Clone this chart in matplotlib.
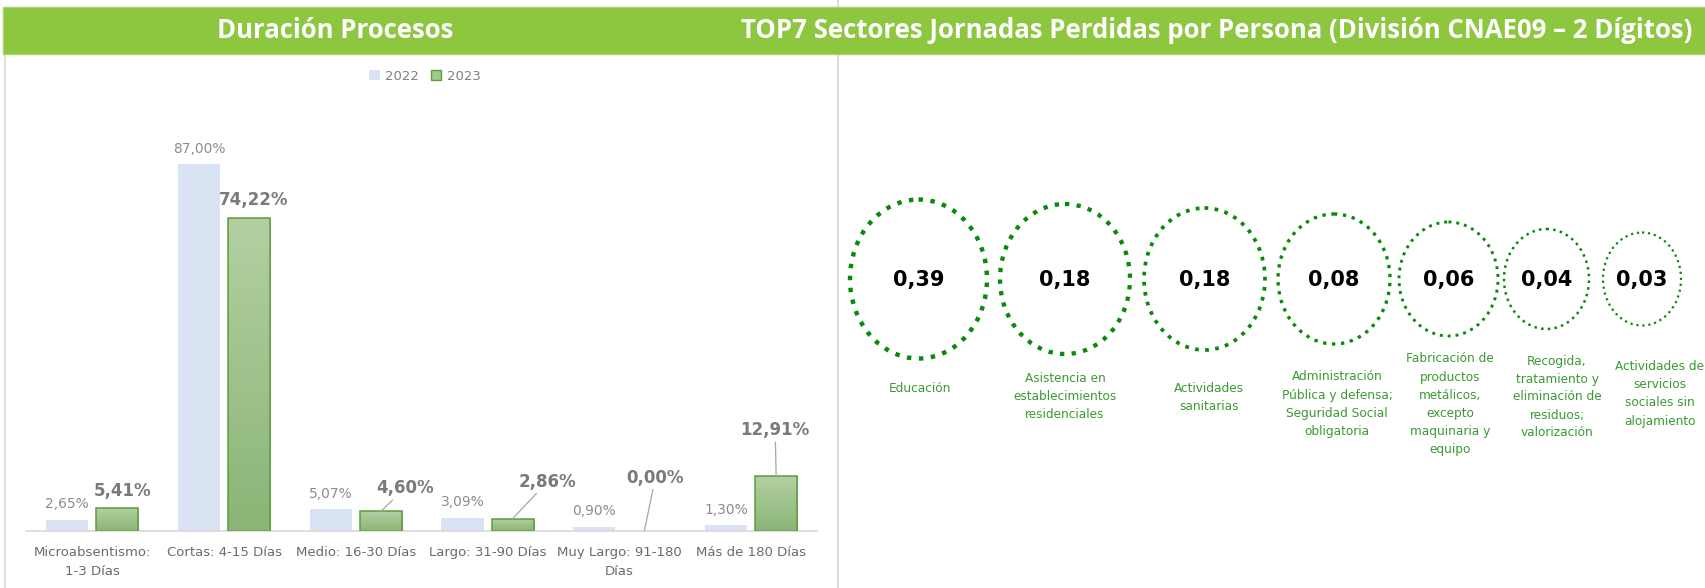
import numpy as np
import matplotlib
matplotlib.use("Agg")
import matplotlib.pyplot as plt
from matplotlib.patches import Patch, Rectangle, Ellipse
from matplotlib.colors import LinearSegmentedColormap

# ---- data ----
CATEGORIAS = [
    "Microabsentismo:\n1-3 Días",
    "Cortas: 4-15 Días",
    "Medio: 16-30 Días",
    "Largo: 31-90 Días",
    "Muy Largo: 91-180\nDías",
    "Más de 180 Días",
]
PCT_2022 = [2.65, 87.00, 5.07, 3.09, 0.90, 1.30]
PCT_2023 = [5.41, 74.22, 4.60, 2.86, 0.00, 12.91]
SERIES = ["2022", "2023"]

SECTORES = [
    "Educación",
    "Asistencia en\nestablecimientos\nresidenciales",
    "Actividades\nsanitarias",
    "Administración\nPública y defensa;\nSeguridad Social\nobligatoria",
    "Fabricación de\nproductos\nmetálicos,\nexcepto\nmaquinaria y\nequipo",
    "Recogida,\ntratamiento y\neliminación de\nresiduos;\nvalorización",
    "Actividades de\nservicios\nsociales sin\nalojamiento",
]
JORNADAS = [0.39, 0.18, 0.18, 0.08, 0.06, 0.04, 0.03]

TITLE_LEFT = "Duración Procesos"
TITLE_RIGHT = "TOP7 Sectores Jornadas Perdidas por Persona (División CNAE09 – 2 Dígitos)"

# ---- layout (pixels of the 1706x588 canvas) ----
W, H = 1706, 588
CIRCLE_CX = [918.5, 1065, 1204.5, 1334, 1448.5, 1546.5, 1642]
CIRCLE_CY = 279
CIRCLE_W = [137, 130, 121, 112, 99, 85, 78]
CIRCLE_H = [159, 150, 142, 130, 114, 100, 93]
CIRCLE_LW = [3.2, 3.1, 2.7, 2.4, 2.1, 1.8, 1.6]
LABEL_X = [920, 1065, 1209, 1337, 1450, 1557, 1660]
LABEL_Y = [389, 396, 397, 404, 404, 397, 394]

# offsets (px) of the 2023 value labels from the bar top, and whether a leader line is drawn
OFFS_2023 = [(5, 17), (5, 18), (24, 23), (35, 37), (11, 53), (-1, 46)]
LEADER_2023 = [False, False, True, True, True, True]

C_2022 = "#DAE3F3"
C_2023_TOP = "#B3D0A2"
C_2023_BOT = "#8AB576"
C_2023_EDGE = "#5E9C3C"
C_BAND = "#8DC63F"
C_DOTS = "#0A8A0A"
C_SECTOR = "#3A9A32"

PX = 72 / 100  # points per pixel at dpi 100


def fmt_pct(v):
    return f"{v:.2f}".replace(".", ",") + "%"


fig = plt.figure(figsize=(W / 100, H / 100), dpi=100)

# overlay axes in pixel units for the frame, header and the circles
ov = fig.add_axes([0, 0, 1, 1], zorder=0)
ov.set_xlim(0, W)
ov.set_ylim(H, 0)
ov.axis("off")

ov.plot([5, 5], [54, H], color="#D9D9D9", lw=1.2)
ov.plot([838, 838], [0, H], color="#D4D4D4", lw=1.2)
ov.add_patch(Rectangle((3, 7), W - 3, 47, facecolor=C_BAND, edgecolor="#A8D46E", lw=1.0, zorder=3))
ov.text(335, 31, TITLE_LEFT, color="white", fontsize=18.5, fontweight="bold",
        family=["Open Sans", "DejaVu Sans"], ha="center", va="center", zorder=4)
ov.text(1692, 31, TITLE_RIGHT, color="white", fontsize=18.5, fontweight="bold",
        family=["Open Sans", "DejaVu Sans"], ha="right", va="center", zorder=4)

for i, val in enumerate(JORNADAS):
    ov.add_patch(Ellipse((CIRCLE_CX[i], CIRCLE_CY), CIRCLE_W[i], CIRCLE_H[i], fill=False,
                         edgecolor=C_DOTS, lw=CIRCLE_LW[i], linestyle=(0, (1, 1.7)),
                         capstyle="butt"))
    ov.text(CIRCLE_CX[i], CIRCLE_CY + 1, f"{val:.2f}".replace(".", ","), fontsize=15,
            fontweight="bold", color="black", ha="center", va="center")
    ov.text(LABEL_X[i], LABEL_Y[i], SECTORES[i], fontsize=8.7, color=C_SECTOR,
            ha="center", va="center", linespacing=1.5, multialignment="center")

# bar chart
ax = fig.add_axes([26.4 / W, 1 - 530.7 / H, (817 - 26.4) / W, 421 / H], zorder=1)
ax.patch.set_alpha(0)
x = np.arange(len(CATEGORIAS))
bw, off = 0.32, 0.19
bars22 = ax.bar(x - off, PCT_2022, bw, color=C_2022, zorder=2)
bars23 = ax.bar(x + off, PCT_2023, bw, facecolor="none", edgecolor=C_2023_EDGE, lw=1.1, zorder=3)

grad = np.linspace(0, 1, 256).reshape(-1, 1)
cmap = LinearSegmentedColormap.from_list("g23", [C_2023_BOT, C_2023_TOP])
for rect in bars23:
    h = rect.get_height()
    if h <= 0:
        rect.set_linewidth(0)
        continue
    x0, w = rect.get_x(), rect.get_width()
    im = ax.imshow(grad, extent=[x0, x0 + w, 0, h], origin="lower", cmap=cmap,
                   aspect="auto", zorder=2.5)
    im.set_clip_path(rect)

for rect, v in zip(bars22, PCT_2022):
    ax.annotate(fmt_pct(v), (rect.get_x() + rect.get_width() / 2, v),
                xytext=(0, 15.5 * PX), textcoords="offset points",
                ha="center", va="center", fontsize=9.9, color="#8C8C8C")

for rect, v, (dx, dy), lead in zip(bars23, PCT_2023, OFFS_2023, LEADER_2023):
    kw = {}
    if lead:
        kw["arrowprops"] = dict(arrowstyle="-", color="#A6A6A6", lw=0.9, shrinkA=0, shrinkB=0)
    ax.annotate(fmt_pct(v), (rect.get_x() + rect.get_width() / 2, v),
                xytext=(dx * PX, dy * PX), textcoords="offset points",
                ha="center", va="center", fontsize=12, fontweight="bold",
                color="#7A7A7A", **kw)

ax.set_xlim(-0.5, len(CATEGORIAS) - 0.5)
ax.set_ylim(0, 100)
ax.set_xticks(x, CATEGORIAS)
ax.tick_params(axis="x", length=0, pad=11, labelsize=9.5, labelcolor="#6B6B6B")
for lbl in ax.get_xticklabels():
    lbl.set_linespacing(1.65)
ax.set_yticks([])
for side in ["top", "right", "left"]:
    ax.spines[side].set_visible(False)
ax.spines["bottom"].set_color("#D9D9D9")
ax.spines["bottom"].set_linewidth(1.2)

handles = [Patch(facecolor=C_2022, edgecolor="none"),
           Patch(facecolor="#A2C68E", edgecolor=C_2023_EDGE, lw=1.0)]
fig.legend(handles, SERIES, loc="center", bbox_to_anchor=(425 / W, 1 - 76 / H), ncol=2,
           frameon=False, fontsize=9.5, labelcolor="#7F7F7F", handlelength=0.8,
           handleheight=0.8, handletextpad=0.4, columnspacing=0.9)

fig.savefig("out.png", dpi=100)
